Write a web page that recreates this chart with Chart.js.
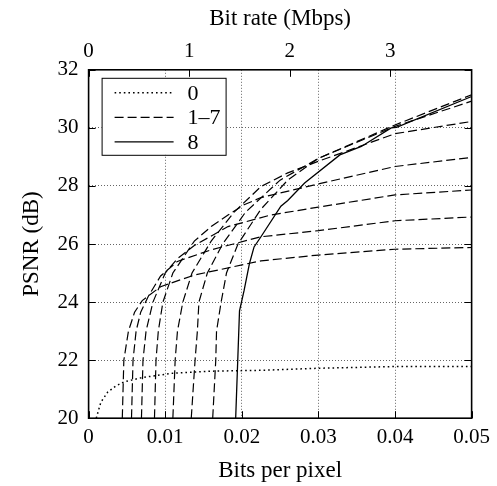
<!DOCTYPE html>
<html>
<head>
<meta charset="utf-8">
<script src="https://cdn.jsdelivr.net/npm/chart.js@4.4.0/dist/chart.umd.min.js"></script>
<style>
  html, body { margin: 0; padding: 0; background: #fff; }
  #wrap { width: 497px; height: 486px; }
</style>
</head>
<body>
<div id="wrap"><canvas id="c"></canvas></div>
<script>
// tick labels
const bppTicks = [0, 0.01, 0.02, 0.03, 0.04, 0.05];
const rateTicks = [0, 1, 2, 3];
const psnrTicks = [20, 22, 24, 26, 28, 30, 32];
const rateMax = 3.81; // Mbps at 0.05 bpp

// series "0" (dotted)
const bpp0 = [0.0010, 0.0016, 0.0025, 0.0035, 0.0046, 0.0070, 0.0110, 0.0160, 0.0225, 0.0300, 0.0400, 0.0500];
const psnr0 = [20.00, 20.55, 20.90, 21.10, 21.25, 21.40, 21.55, 21.62, 21.65, 21.72, 21.78, 21.78];

// series "1–7" (dashed)
const bpp1 = [0.0044, 0.0046, 0.0052, 0.0060, 0.0070, 0.0094, 0.0138, 0.0186, 0.0225, 0.0300, 0.0400, 0.0500];
const psnr1 = [20.00, 22.00, 23.00, 23.65, 24.05, 24.53, 24.93, 25.20, 25.42, 25.62, 25.82, 25.88];
const bpp2 = [0.0056, 0.0058, 0.0062, 0.0068, 0.0078, 0.0094, 0.0116, 0.0160, 0.0225, 0.0300, 0.0400, 0.0500];
const psnr2 = [20.00, 22.00, 23.00, 23.65, 24.20, 24.90, 25.40, 25.80, 26.25, 26.46, 26.80, 26.93];
const bpp3 = [0.0069, 0.0071, 0.0075, 0.0084, 0.0100, 0.0116, 0.0138, 0.0182, 0.0238, 0.0300, 0.0400, 0.0500];
const psnr3 = [20.00, 22.00, 23.00, 24.00, 25.00, 25.50, 25.95, 26.60, 27.00, 27.27, 27.69, 27.86];
const bpp4 = [0.0086, 0.0088, 0.0091, 0.0097, 0.0110, 0.0138, 0.0160, 0.0182, 0.0203, 0.0225, 0.0300, 0.0400, 0.0500];
const psnr4 = [20.00, 22.00, 23.00, 24.00, 25.00, 26.10, 26.60, 27.00, 27.35, 27.60, 28.07, 28.67, 28.98];
const bpp5 = [0.0110, 0.0113, 0.0116, 0.0123, 0.0135, 0.0160, 0.0190, 0.0225, 0.0260, 0.0300, 0.0400, 0.0500];
const psnr5 = [20.00, 22.00, 23.00, 24.00, 25.00, 26.10, 27.10, 27.98, 28.45, 28.85, 29.80, 30.22];
const bpp6 = [0.0134, 0.0139, 0.0142, 0.0144, 0.0155, 0.0175, 0.0205, 0.0250, 0.0300, 0.0400, 0.0500];
const psnr6 = [20.00, 22.00, 23.00, 24.00, 25.00, 26.00, 27.10, 28.20, 28.95, 30.05, 30.92];
const bpp7 = [0.0162, 0.0166, 0.0167, 0.0173, 0.0180, 0.0195, 0.0225, 0.0260, 0.0300, 0.0400, 0.0500];
const psnr7 = [20.00, 22.00, 23.00, 24.00, 25.00, 26.00, 27.20, 28.20, 28.95, 30.10, 31.14];

// series "8" (solid)
const bpp8 = [0.0192, 0.0197, 0.0203, 0.0210, 0.0216, 0.0225, 0.0251, 0.0260, 0.0282, 0.0328, 0.0356, 0.0395, 0.0402, 0.0500];
const psnr8 = [20.00, 23.70, 24.40, 25.33, 25.90, 26.25, 27.30, 27.50, 28.10, 29.07, 29.36, 30.00, 30.02, 31.08];

const legendNames = ['0', '1\u20137', '8'];

const serif = "'Liberation Serif', 'DejaVu Serif', serif";
const DOT = [1.6, 3];
const DASH = [9, 4];

const pts = (xs, ys) => xs.map((x, i) => ({ x: x, y: ys[i] }));
const line = (xs, ys, dash, label, w) => ({
  label: label, data: pts(xs, ys), showLine: true, borderColor: '#000', borderWidth: w,
  borderDash: dash, pointRadius: 0, tension: 0, fill: false
});

const dashed = [[bpp1, psnr1], [bpp2, psnr2], [bpp3, psnr3], [bpp4, psnr4], [bpp5, psnr5], [bpp6, psnr6], [bpp7, psnr7]];
const datasets = [line(bpp0, psnr0, DOT, legendNames[0], 1.5)]
  .concat(dashed.map(d => line(d[0], d[1], DASH, legendNames[1], 1.2)))
  .concat([line(bpp8, psnr8, [], legendNames[2], 1.3)]);

const gridColor = (lo, hi) => ctx => {
  const v = ctx.tick && ctx.tick.value;
  return (v === lo || v === hi) ? 'rgba(0,0,0,0)' : '#666';
};

// frame, inward ticks, legend box
const framePlugin = {
  id: 'frame',
  afterDatasetsDraw(chart) {
    const { ctx, chartArea: a, scales } = chart;
    const L = 7;
    ctx.save();
    ctx.strokeStyle = '#000';
    ctx.lineWidth = 1;
    ctx.setLineDash([]);
    ctx.beginPath();
    bppTicks.forEach(v => {
      const px = Math.round(scales.x.getPixelForValue(v)) + 0.5;
      ctx.moveTo(px, a.bottom); ctx.lineTo(px, a.bottom - L);
    });
    rateTicks.forEach(v => {
      const px = Math.round(scales.x2.getPixelForValue(v)) + 0.5;
      ctx.moveTo(px, a.top); ctx.lineTo(px, a.top + L);
    });
    psnrTicks.forEach(v => {
      const py = Math.round(scales.y.getPixelForValue(v)) + 0.5;
      ctx.moveTo(a.left, py); ctx.lineTo(a.left + L, py);
      ctx.moveTo(a.right, py); ctx.lineTo(a.right - L, py);
    });
    ctx.stroke();
    ctx.lineWidth = 1.6;
    ctx.strokeRect(a.left, a.top, a.right - a.left, a.bottom - a.top);

    // legend
    const bx = a.left + 13, by = a.top + 8, bw = 124, bh = 77;
    ctx.fillStyle = '#fff';
    ctx.fillRect(bx, by, bw, bh);
    ctx.lineWidth = 1;
    ctx.strokeRect(bx + 0.5, by + 0.5, bw, bh);
    const samples = [datasets[0], datasets[1], datasets[8]];
    ctx.font = '22px ' + serif;
    ctx.textBaseline = 'middle';
    ctx.textAlign = 'left';
    samples.forEach((ds, i) => {
      const y = by + 15 + i * 24.5;
      ctx.setLineDash(ds.borderDash);
      ctx.lineWidth = ds.borderWidth;
      ctx.beginPath();
      ctx.moveTo(bx + 13, y); ctx.lineTo(bx + 72, y);
      ctx.stroke();
      ctx.fillStyle = '#000';
      ctx.fillText(ds.label, bx + 86, y + 1);
    });
    ctx.restore();
  }
};

new Chart(document.getElementById('c'), {
  type: 'scatter',
  data: { datasets: datasets },
  options: {
    responsive: true,
    maintainAspectRatio: false,
    animation: false,
    layout: { padding: { left: 14, right: 14, top: 5, bottom: 0 } },
    plugins: { legend: { display: false }, tooltip: { enabled: false } },
    scales: {
      x: {
        type: 'linear', position: 'bottom', min: 0, max: 0.05,
        afterBuildTicks: s => { s.ticks = bppTicks.map(v => ({ value: v })); },
        ticks: { color: '#000', font: { family: serif, size: 21 }, padding: 7, maxRotation: 0,
          callback: v => v === 0 ? '0' : v.toFixed(2) },
        grid: { color: gridColor(0, 0.05), lineWidth: 1, drawTicks: false },
        border: { display: false, dash: [1, 2] },
        title: { display: true, text: 'Bits per pixel', color: '#000', font: { family: serif, size: 23 }, padding: { top: 0, bottom: 1 } }
      },
      x2: {
        type: 'linear', position: 'top', min: 0, max: rateMax,
        afterBuildTicks: s => { s.ticks = rateTicks.map(v => ({ value: v })); },
        ticks: { color: '#000', font: { family: serif, size: 21 }, padding: 6, maxRotation: 0 },
        grid: { display: false, drawTicks: false },
        border: { display: false },
        title: { display: true, text: 'Bit rate (Mbps)', color: '#000', font: { family: serif, size: 23 }, padding: { top: 0, bottom: 0 } }
      },
      y: {
        type: 'linear', position: 'left', min: 20, max: 32,
        afterBuildTicks: s => { s.ticks = psnrTicks.map(v => ({ value: v })); },
        ticks: { color: '#000', font: { family: serif, size: 21 }, padding: 10 },
        grid: { color: gridColor(20, 32), lineWidth: 1, drawTicks: false },
        border: { display: false, dash: [1, 2] },
        title: { display: true, text: 'PSNR (dB)', color: '#000', font: { family: serif, size: 23 }, padding: { bottom: 2 } }
      }
    }
  },
  plugins: [framePlugin]
});
</script>
</body>
</html>
